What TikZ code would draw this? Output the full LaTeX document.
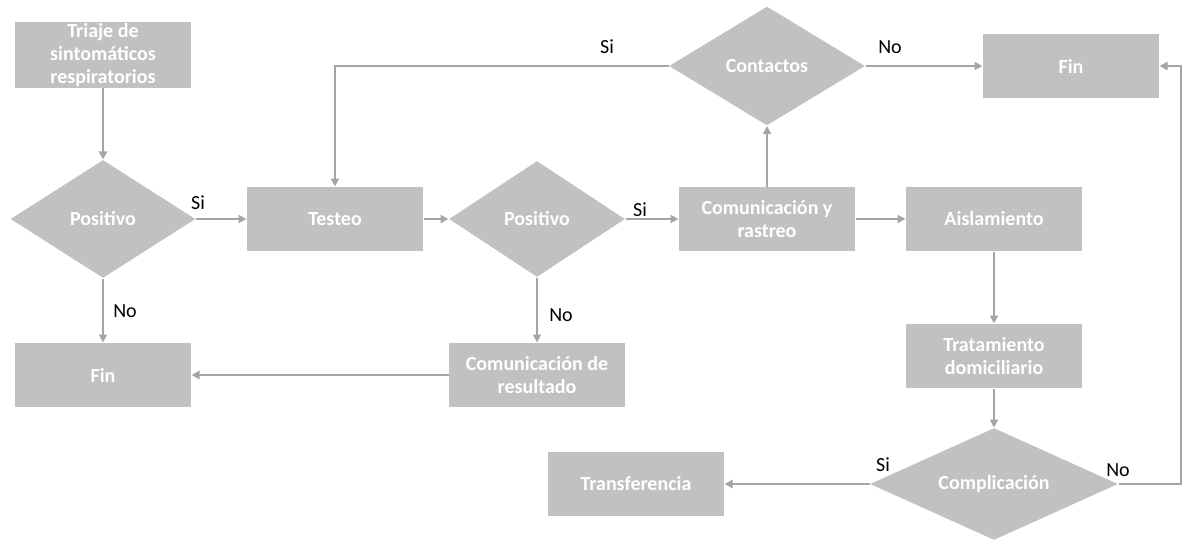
\documentclass[tikz,border=0pt]{standalone}
\usepackage{fontspec}
\setmainfont{Carlito}
\usetikzlibrary{shapes.geometric,arrows.meta}

\definecolor{boxgray}{RGB}{193,193,193}
\definecolor{linegray}{RGB}{165,165,165}

\tikzset{every picture/.style={line width=0.75pt}}
\tikzset{
  stepbox/.style={fill=boxgray, text=white, align=center, minimum width=132pt, minimum height=48pt, inner sep=0pt, font=\fontsize{15}{17}\selectfont\bfseries},
  choice/.style={diamond, fill=boxgray, text=white, inner sep=0pt, aspect=1.5, font=\fontsize{15}{17}\selectfont\bfseries},
  flow/.style={draw=linegray, line width=1.5pt, -{Triangle[length=6pt,width=6pt]}},
  answer/.style={font=\fontsize{15}{18}\selectfont}
}

\begin{document}
\begin{tikzpicture}[x=0.75pt,y=0.75pt,yscale=-1,xscale=1]
\useasboundingbox (0,0) rectangle (1184,546);

%Shape: Rectangle [triaje]
\node[stepbox, minimum height=49pt] (triaje) at (103,55) {Triaje de\\sintomáticos\\respiratorios};
%Shape: Diamond [positivo 1]
\node[choice, minimum width=138.75pt, minimum height=88.5pt] (posA) at (103,219) {Positivo};
%Shape: Rectangle [testeo]
\node[stepbox] (testeo) at (335,219) {Testeo};
%Shape: Diamond [positivo 2]
\node[choice, minimum width=132pt, minimum height=87pt] (posB) at (537,219) {Positivo};
%Shape: Rectangle [comunicacion y rastreo]
\node[stepbox] (comras) at (767,219) {Comunicación y\\rastreo};
%Shape: Rectangle [aislamiento]
\node[stepbox] (aisla) at (994,219) {Aislamiento};
%Shape: Diamond [contactos]
\node[choice, minimum width=147pt, minimum height=89.25pt] (contac) at (767,66) {Contactos};
%Shape: Rectangle [fin arriba]
\node[stepbox] (finA) at (1071,66) {Fin};
%Shape: Rectangle [fin izquierda]
\node[stepbox] (finB) at (103,375) {Fin};
%Shape: Rectangle [comunicacion de resultado]
\node[stepbox] (comres) at (537,375) {Comunicación de\\resultado};
%Shape: Rectangle [tratamiento]
\node[stepbox] (tratam) at (994,356) {Tratamiento\\domiciliario};
%Shape: Diamond [complicacion]
\node[choice, minimum width=186pt, minimum height=84pt] (compli) at (994,484) {Complicación};
%Shape: Rectangle [transferencia]
\node[stepbox] (transf) at (636,484) {Transferencia};

%Straight Lines
\draw[flow] (triaje) -- (posA);
\draw[flow] (posA) -- (testeo);
\draw[flow] (posA) -- (finB);
\draw[flow] (testeo) -- (posB);
\draw[flow] (posB) -- (comras);
\draw[flow] (posB) -- (comres);
\draw[flow] (comres) -- (finB);
\draw[flow] (comras) -- (contac);
\draw[flow] (contac.west) -| (testeo.north);
\draw[flow] (contac) -- (finA);
\draw[flow] (comras) -- (aisla);
\draw[flow] (aisla) -- (tratam);
\draw[flow] (tratam) -- (compli);
\draw[flow] (compli) -- (transf);
\coordinate (rcorner) at (1181,484);
\draw[flow] (compli.east) -- (rcorner) |- (finA.east);

%Labels
\node[answer] (siA) at (198,203) {Si};
\node[answer] (noA) at (125,311) {No};
\node[answer] (siB) at (640,210) {Si};
\node[answer] (noB) at (561,315) {No};
\node[answer] (siC) at (607,47) {Si};
\node[answer] (noC) at (890,47) {No};
\node[answer] (siD) at (883,465) {Si};
\node[answer] (noD) at (1118,470) {No};
\end{tikzpicture}
\end{document}
